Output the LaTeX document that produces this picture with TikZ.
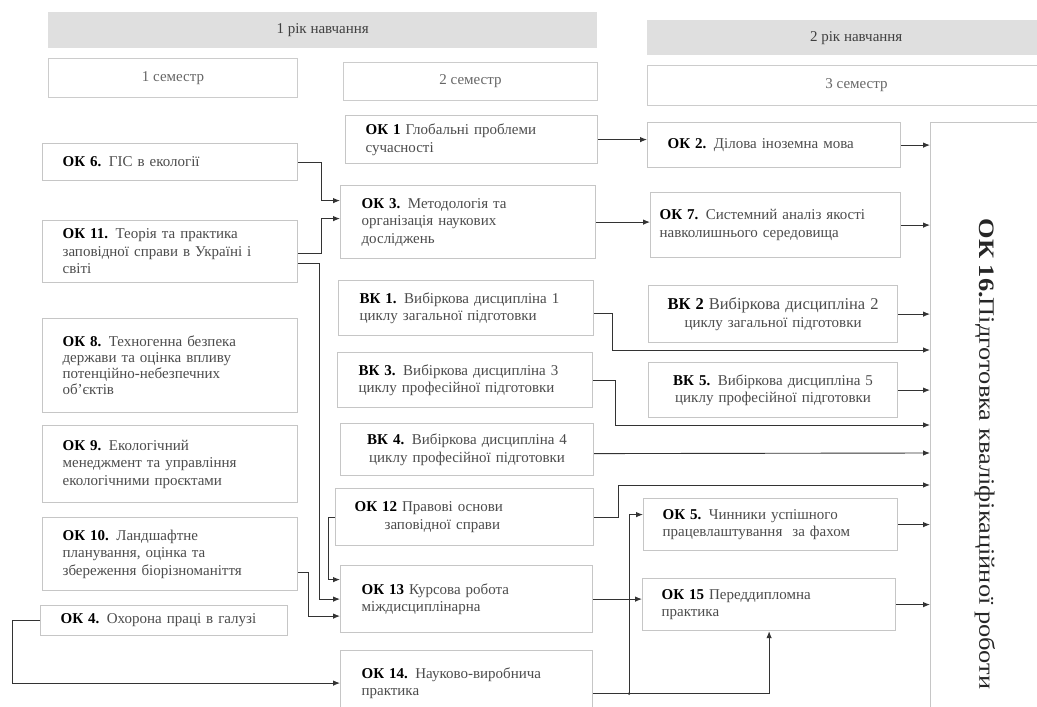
\documentclass[tikz,border=0pt]{standalone}
\usepackage{fontspec}
\setmainfont{Liberation Serif}
\usetikzlibrary{arrows.meta,calc}
\newcommand\cid[1]{\textbf{\textcolor{black}{#1}}}
\begin{document}
\begin{tikzpicture}[x=1pt,y=-1pt,
  box/.style={draw=gray!45, line width=1.2pt, fill=white, anchor=north west, inner ysep=2pt, align=left, font=\fontsize{15}{17.5}\selectfont, text=black!70},
  lc/.style={box, minimum width=255pt, text width=215pt, inner xsep=20pt},
  mc/.style={box, minimum width=255pt, text width=213pt, inner xsep=21pt},
  rc/.style={box, minimum width=252pt, text width=222pt, inner xsep=15pt},
  hdr/.style={fill=gray!25, draw=none, anchor=north west, inner sep=0pt, font=\fontsize{15}{17}\selectfont, text=black!75},
  sem/.style={draw=gray!40, line width=1pt, fill=white, anchor=north west, inner sep=0pt, font=\fontsize{15}{17}\selectfont, text=black!60},
  conn/.style={draw=black!80, line width=0.9pt, -{Latex[length=7pt,width=5.5pt]}},
  wire/.style={draw=black!80, line width=0.9pt}
]
\useasboundingbox (0,0) rectangle (1037,707);
\clip (0,0) rectangle (1037,707);
\fill[white] (0,0) rectangle (1037,707);

% headers
\node[hdr, minimum width=549pt, minimum height=36pt] (y1) at (48,12) {1 рік навчання};
\node[hdr, minimum width=418pt, minimum height=35pt] (y2) at (647,20) {2 рік навчання};
\node[sem, minimum width=249pt, minimum height=39pt] (s1) at (48,58) {1 семестр};
\node[sem, minimum width=254pt, minimum height=38pt] (s2) at (343,62) {2 семестр};
\node[sem, minimum width=418pt, minimum height=40pt] (s3) at (647,65) {3 семестр};

% left column
\node[lc, minimum height=37pt] (ok6) at (42,143) {\cid{ОК 6.} ГІС в екології};
\node[lc, minimum height=62pt] (ok11) at (42,220) {\cid{ОК 11.} Теорія та практика\\заповідної справи в Україні і\\світі};
\node[lc, minimum height=94pt, font=\fontsize{15}{16}\selectfont] (ok8) at (42,318) {\cid{ОК 8.} Техногенна безпека\\держави та оцінка впливу\\потенційно-небезпечних\\об'єктів};
\node[lc, minimum height=77pt] (ok9) at (42,425) {\cid{ОК 9.} Екологічний\\менеджмент та управління\\екологічними проєктами};
\node[lc, minimum height=73pt] (ok10) at (42,517) {\cid{ОК 10.} Ландшафтне\\планування, оцінка та\\збереження біорізноманіття};
\node[lc, minimum width=247pt, text width=207pt, minimum height=30pt] (ok4) at (40,605) {\cid{ОК 4.} Охорона праці в галузі};

% middle column
\node[mc, minimum width=252pt, text width=212pt, inner xsep=20pt, minimum height=48pt] (ok1) at (345,115) {\cid{ОК 1} Глобальні проблеми\\ сучасності};
\node[mc, minimum height=73pt] (ok3) at (340,185) {\cid{ОК 3.} Методологія та\\організація наукових\\досліджень};
\node[mc, minimum height=55pt] (vk1) at (338,280) {\cid{ВК 1.} Вибіркова дисципліна 1\\циклу загальної підготовки};
\node[mc, minimum height=55pt] (vk3) at (337,352) {\cid{ВК 3.} Вибіркова дисципліна 3\\циклу професійної підготовки};
\node[mc, minimum width=253pt, text width=217pt, inner xsep=18pt, minimum height=52pt, align=center] (vk4) at (340,423) {\cid{ВК 4.} Вибіркова дисципліна 4\\циклу професійної підготовки};
\node[mc, minimum width=258pt, text width=220pt, inner xsep=19pt, minimum height=57pt] (ok12) at (335,488) {\cid{ОК 12} Правові основи\\\hspace*{30pt}заповідної справи};
\node[mc, minimum width=252pt, text width=210pt, minimum height=67pt] (ok13) at (340,565) {\cid{ОК 13} Курсова робота\\міждисциплінарна};
\node[mc, minimum width=252pt, text width=210pt, minimum height=65pt] (ok14) at (340,650) {\cid{ОК 14.} Науково-виробнича\\практика};

% right column
\node[rc, minimum height=45pt, inner xsep=20pt, text width=213pt] (ok2) at (647,122) {\cid{ОК 2.} Ділова іноземна мова};
\node[rc, minimum width=250pt, text width=232pt, inner xsep=9pt, minimum height=65pt] (ok7) at (650,192) {\cid{ОК 7.} Системний аналіз якості\\навколишнього середовища\\[6pt]};
\node[rc, minimum width=249pt, text width=223pt, inner xsep=13pt, minimum height=57pt, align=center] (vk2) at (648,285) {{\fontsize{16.5}{18}\selectfont\cid{ВК 2} Вибіркова дисципліна 2}\\циклу загальної підготовки};
\node[rc, minimum width=249pt, text width=223pt, inner xsep=13pt, minimum height=55pt, align=center] (vk5) at (648,362) {\cid{ВК 5.} Вибіркова дисципліна 5\\циклу професійної підготовки};
\node[rc, minimum width=254pt, minimum height=52pt, inner xsep=19pt, text width=216pt] (ok5) at (643,498) {\cid{ОК 5.} Чинники успішного\\працевлаштування\ \ за фахом};
\node[rc, minimum width=253pt, minimum height=52pt, inner xsep=19pt, text width=215pt] (ok15) at (642,578) {\cid{ОК 15} Переддипломна\\практика};

% final big box
\node[draw=gray!45, line width=1.2pt, fill=white, anchor=north west, minimum width=140pt, minimum height=600pt] (ok16) at (930,122) {};
\node[rotate=-90, font=\fontsize{22}{24}\selectfont, text=black!85] (ok16t) at (985,454) {\scalebox{1.2}[1]{\textbf{ОК 16.}Підготовка кваліфікаційної роботи}};

% entry points on OK 16
\coordinate (i350) at ($(ok16.north west)+(0,228)$);
\coordinate (i425) at ($(ok16.north west)+(0,303)$);
\coordinate (i453) at ($(ok16.north west)+(0,331)$);
\coordinate (i485) at ($(ok16.north west)+(0,363)$);

% connectors: semester 1 -> semester 2
\draw[conn] (ok6.east) -- ++(23,0) |- ([yshift=21.5pt]ok3.west);
\draw[conn] ([yshift=-2pt]ok11.east) -- ++(23,0) |- ([yshift=3.5pt]ok3.west);
\draw[conn] ([yshift=-12pt]ok11.east) -- ++(21,0) |- (ok13.west);
\draw[conn] (ok12.west) -- ++(-7,0) |- ([yshift=19.5pt]ok13.west);
\draw[conn] ([yshift=-18.5pt]ok10.east) -- ++(10,0) |- ([yshift=-17pt]ok13.west);
\draw[conn] (ok4.west) -- ++(-28,0) |- (ok14.west);

% semester 2 -> semester 3
\draw[conn] (ok1.east) -- (ok1.east -| ok2.west);
\draw[conn] (ok3.east) -- (ok3.east -| ok7.west);
\draw[conn] (ok13.east) -- (ok13.east -| ok15.west);
\draw[wire] ([yshift=-10.5pt]ok14.east) -- ++(36,0) coordinate (j);
\draw[conn] (j) |- ([yshift=10pt]ok5.west);
\draw[conn] (j) -| (ok15.south);
\fill[black!80] (j) circle (1.4pt);

% into OK 16
\draw[conn] (ok2.east) -- (ok2.east -| ok16.west);
\draw[conn] (ok7.east) -- (ok7.east -| ok16.west);
\draw[conn] (vk2.east) -- (vk2.east -| ok16.west);
\draw[conn] ([yshift=-5pt]vk1.east) -- ++(18,0) |- (i350);
\draw[conn] (vk5.east) -- (vk5.east -| ok16.west);
\draw[conn] (vk3.east) -- ++(22,0) |- (i425);
\draw[conn] ([yshift=-4pt]vk4.east) -- (i453);
\draw[conn] (ok12.east) -- ++(24,0) |- (i485);
\draw[conn] (ok5.east) -- (ok5.east -| ok16.west);
\draw[conn] (ok15.east) -- (ok15.east -| ok16.west);
\end{tikzpicture}
\end{document}
